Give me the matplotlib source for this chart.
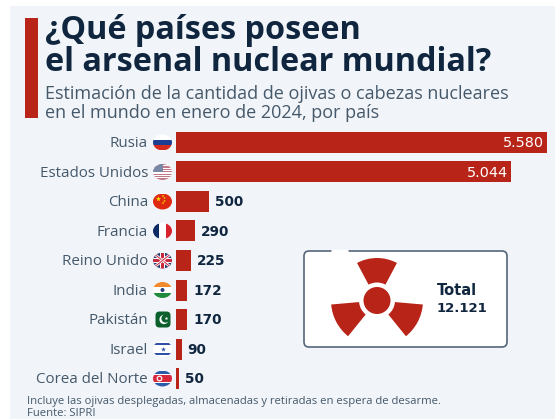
import matplotlib
matplotlib.use("Agg")
from matplotlib import pyplot as plt
from matplotlib.patches import Rectangle, Ellipse, Circle, Wedge, FancyBboxPatch

plt.rcParams['font.family'] = ['Open Sans', 'DejaVu Sans']

paises = ["Rusia", "Estados Unidos", "China", "Francia", "Reino Unido",
          "India", "Pakistán", "Israel", "Corea del Norte"]
ojivas = [5580, 5044, 500, 290, 225, 172, 170, 90, 50]
etiquetas = ["5.580", "5.044", "500", "290", "225", "172", "170", "90", "50"]

ROJO = "#b82418"
OSCURO = "#10263f"
GRIS = "#45586a"
W, H = 555, 419

fig = plt.figure(figsize=(W/100, H/100), dpi=100, facecolor="white")

# capa de fondo en pixeles
bg = fig.add_axes([0, 0, 1, 1])
bg.set_xlim(0, W)
bg.set_ylim(H, 0)
bg.axis("off")
bg.add_patch(Rectangle((10, 6), W - 10, H - 6, fc="#f1f5f9", ec="none"))
bg.add_patch(Rectangle((25, 18), 13, 100, fc=ROJO, ec="none"))

bg.text(45, 39, "¿Qué países poseen", fontsize=23.3, fontweight="bold", color=OSCURO, va="baseline")
bg.text(45, 71, "el arsenal nuclear mundial?", fontsize=23.3, fontweight="bold", color=OSCURO, va="baseline")
bg.text(45, 99, "Estimación de la cantidad de ojivas o cabezas nucleares", fontsize=13, color=GRIS, va="baseline")
bg.text(45, 118, "en el mundo en enero de 2024, por país", fontsize=13, color=GRIS, va="baseline")
bg.text(27, 404, "Incluye las ojivas desplegadas, almacenadas y retiradas en espera de desarme.", fontsize=8.1, color=GRIS, va="baseline")
bg.text(27, 415.5, "Fuente: SIPRI", fontsize=8.1, color=GRIS, va="baseline")

# barras
fila0, paso = 142.5, 29.5
ax = fig.add_axes([176/W, 0, (W - 176)/W, 1])
ax.set_xlim(0, (W - 176)/0.0665)
ax.set_ylim((H - fila0)/paso, -fila0/paso)
ax.axis("off")
ax.patch.set_alpha(0)
pos = list(range(len(paises)))
ax.barh(pos, ojivas, height=21/paso, color=ROJO, edgecolor="none")
for i, v in enumerate(ojivas):
    if v > 1000:
        ax.text(v - 50, i + 0.02, etiquetas[i], color="white", fontsize=10.4, family="DejaVu Sans", ha="right", va="center")
    else:
        ax.text(v + 85, i + 0.02, etiquetas[i], color=OSCURO, fontsize=9.8, family="DejaVu Sans", fontweight="bold", ha="left", va="center")


def rect(x, y, w, h, c, clip):
    r = Rectangle((x, y), w, h, fc=c, ec="none")
    bg.add_patch(r)
    r.set_clip_path(clip)
    return r


def bandera(i, y):
    cx = 162.5
    if paises[i] == "Pakistán":
        clip = FancyBboxPatch((cx - 7, y - 8), 15, 16, boxstyle="round,pad=0,rounding_size=4", fc="#0b5f2c", ec="none")
    else:
        clip = Ellipse((cx, y), 19, 16, fc="white", ec="none")
    bg.add_patch(clip)
    x0, y0 = cx - 10, y - 8
    if paises[i] == "Rusia":
        rect(x0, y0 + 5.3, 20, 5.3, "#1c3f94", clip)
        rect(x0, y0 + 10.6, 20, 5.4, "#d52b1e", clip)
    elif paises[i] == "Estados Unidos":
        for k in range(0, 7):
            rect(x0, y0 + k*2.4, 20, 1.2, "#c07a88", clip)
        rect(x0, y0, 10, 8, "#7a88a8", clip)
    elif paises[i] == "China":
        rect(x0, y0, 20, 16, "#de2910", clip)
        bg.scatter([cx - 4, cx + 0.5, cx + 2, cx + 2, cx + 0.5], [y - 2.5, y - 5.5, y - 3.5, y - 0.5, y + 1.5],
                   s=[16, 4, 4, 4, 4], marker="*", color="#ffde00", linewidths=0, zorder=3)
    elif paises[i] == "Francia":
        rect(x0, y0, 6.5, 16, "#0d2a66", clip)
        rect(x0 + 13.5, y0, 6.5, 16, "#d8232f", clip)
    elif paises[i] == "Reino Unido":
        rect(x0, y0, 20, 16, "#2a3f70", clip)
        for a, b in [((x0, y0), (x0 + 20, y0 + 16)), ((x0, y0 + 16), (x0 + 20, y0))]:
            l = bg.plot([a[0], b[0]], [a[1], b[1]], color="white", lw=2)[0]
            l.set_clip_path(clip)
            l = bg.plot([a[0], b[0]], [a[1], b[1]], color="#c8283c", lw=0.7)[0]
            l.set_clip_path(clip)
        rect(x0, y - 2.5, 20, 5, "white", clip)
        rect(cx - 2.5, y0, 5, 16, "white", clip)
        rect(x0, y - 1.3, 20, 2.6, "#c8283c", clip)
        rect(cx - 1.3, y0, 2.6, 16, "#c8283c", clip)
    elif paises[i] == "India":
        rect(x0, y0, 20, 5.3, "#f08a2c", clip)
        rect(x0, y0 + 10.7, 20, 5.3, "#1f8a3c", clip)
        bg.add_patch(Circle((cx, y), 2, fc="#2a3f7a", ec="none"))
    elif paises[i] == "Pakistán":
        bg.add_patch(Circle((cx + 1.5, y), 4.6, fc="white", ec="none"))
        bg.add_patch(Circle((cx + 3, y - 1), 4.1, fc="#0b5f2c", ec="none"))
        bg.scatter([cx + 3.5], [y - 1.5], s=8, marker="*", color="white", linewidths=0, zorder=3)
    elif paises[i] == "Israel":
        rect(x0, y0 + 2, 20, 2.2, "#2f4fa8", clip)
        rect(x0, y0 + 11.8, 20, 2.2, "#2f4fa8", clip)
        bg.scatter([cx], [y], s=14, marker="*", color="#2f4fa8", linewidths=0, zorder=3)
    elif paises[i] == "Corea del Norte":
        rect(x0, y0, 20, 3.5, "#2a5aa8", clip)
        rect(x0, y0 + 12.5, 20, 3.5, "#2a5aa8", clip)
        rect(x0, y0 + 4.3, 20, 7.4, "#d8283c", clip)
        bg.add_patch(Circle((cx - 3, y), 2.9, fc="white", ec="none"))
        bg.add_patch(Circle((cx - 3, y), 1.7, fc="#d8283c", ec="none"))


for i, p in enumerate(paises):
    y = fila0 + i*paso
    bg.text(148, y + 1, p, fontsize=10.9, color=GRIS, ha="right", va="center")
    bandera(i, y)

# recuadro del total
cuadro = fig.add_axes([0, 0, 1, 1])
cuadro.set_xlim(0, W)
cuadro.set_ylim(H, 0)
cuadro.axis("off")
cuadro.patch.set_alpha(0)
cuadro.add_patch(FancyBboxPatch((304, 251), 203, 96, boxstyle="round,pad=0,rounding_size=5",
                                fc="white", ec="#55667a", lw=1.2))
cuadro.plot([331, 348], [251, 251], color="white", lw=2.5, solid_capstyle="butt")
cx, cy = 377, 300.5
cuadro.add_patch(Circle((cx, cy), 13.5, fc=ROJO, ec="none"))
cuadro.add_patch(Wedge((cx, cy), 42.5, -118, -62, width=24.5, fc=ROJO, ec="none"))
cuadro.add_patch(Wedge((cx, cy), 46, 129, 175, width=28, fc=ROJO, ec="none"))
cuadro.add_patch(Wedge((cx, cy), 46, 5, 51, width=28, fc=ROJO, ec="none"))
cuadro.text(436.5, 290, "Total", fontsize=10.5, family="DejaVu Sans", fontweight="bold", color=OSCURO, va="center")
cuadro.text(436.5, 308, "12.121", fontsize=9.5, family="DejaVu Sans", fontweight="bold", color=OSCURO, va="center")

fig.savefig("out.png", dpi=100)
